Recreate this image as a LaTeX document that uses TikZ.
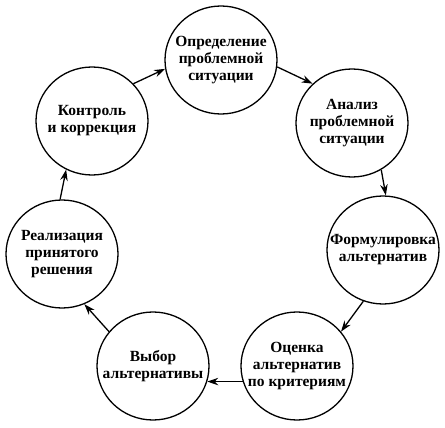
\documentclass[tikz,border=0pt]{standalone}
\usepackage{fontspec}
\setmainfont{Liberation Serif}
\usetikzlibrary{shapes.geometric,arrows.meta}
\begin{document}
\begin{tikzpicture}[x=1pt,y=-1pt,
  stage/.style={ellipse, draw, line width=1.3pt, minimum width=112pt, minimum height=108pt,
    inner xsep=-30pt, inner ysep=-30pt, align=center, font=\bfseries\fontsize{15.5}{17}\selectfont},
  arr/.style={-{Stealth[length=11pt,width=7.5pt]}, line width=1.3pt}]
\useasboundingbox (0,0) rectangle (445,428);
\node[stage] (n1) at (221,60)  {Определение\\проблемной\\ситуации};
\node[stage] (n2) at (352,123) {Анализ\\проблемной\\ситуации};
\node[stage] (n3) at (383,250) {Формулировка\\альтернатив};
\node[stage] (n4) at (297,366) {Оценка\\альтернатив\\по критериям};
\node[stage] (n5) at (153,366) {Выбор\\альтернативы};
\node[stage] (n6) at (62,254)  {Реализация\\принятого\\решения};
\node[stage] (n7) at (92,121)  {Контроль\\и коррекция};
\draw[arr] (n1.-7) -- (n2.135);
\draw[arr] (n2.-58) -- (n3.87);
\draw[arr] (n3.249) -- (n4.38);
\draw[arr] (n4.196) -- (n5.-16);
\draw[arr] (n5.142) -- (n6.-66);
\draw[arr] (n6.92) -- (n7.242);
\draw[arr] (n7.42) -- (n1.189);
\end{tikzpicture}
\end{document}
